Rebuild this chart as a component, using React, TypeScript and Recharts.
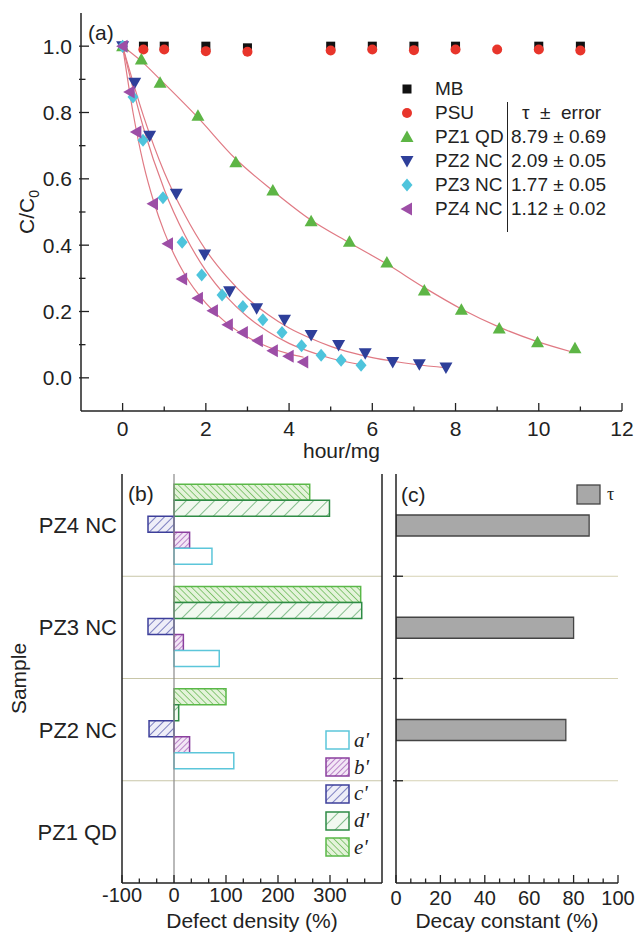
import React from 'react'
import { ScatterChart, Scatter, BarChart, Bar, XAxis, YAxis, ReferenceLine, Legend } from 'recharts'

const FONT = '"Liberation Sans", Arial, sans-serif'
const SERIF = '"Liberation Serif", "Times New Roman", serif'
const INK = '#222'
const frame = { stroke: INK, strokeWidth: 1.5 }

// ---------- (a) dye decay ----------
const mbHours = [0.5, 1, 2, 3, 5, 6, 7, 8, 10, 11]
const mbRatio = [1.0, 1.0, 1.0, 0.995, 1.0, 1.0, 1.0, 1.0, 1.0, 1.0]
const psuHours = [0.5, 1, 2, 3, 5, 6, 7, 8, 9, 10, 11]
const psuRatio = [0.99, 0.99, 0.985, 0.983, 0.987, 0.99, 0.988, 0.99, 0.99, 0.99, 0.987]
const pz1Hours = [0, 0.45, 0.9, 1.81, 2.72, 3.61, 4.53, 5.45, 6.35, 7.25, 8.14, 9.05, 9.97, 10.87]
const pz1Ratio = [1, 0.96, 0.89, 0.79, 0.65, 0.565, 0.472, 0.41, 0.348, 0.263, 0.205, 0.149, 0.107, 0.089]
const pz2Hours = [0, 0.29, 0.65, 1.29, 1.97, 2.57, 3.22, 3.89, 4.53, 5.19, 5.83, 6.49, 7.13, 7.77]
const pz2Ratio = [1, 0.89, 0.73, 0.555, 0.372, 0.261, 0.21, 0.175, 0.129, 0.099, 0.074, 0.048, 0.041, 0.031]
const pz3Hours = [0, 0.25, 0.49, 0.97, 1.43, 1.9, 2.39, 2.89, 3.37, 3.83, 4.3, 4.77, 5.25, 5.73]
const pz3Ratio = [1, 0.847, 0.716, 0.543, 0.409, 0.31, 0.25, 0.215, 0.175, 0.137, 0.097, 0.068, 0.053, 0.038]
const pz4Hours = [0, 0.17, 0.33, 0.73, 1.09, 1.43, 1.81, 2.17, 2.53, 2.89, 3.25, 3.61, 3.99, 4.34]
const pz4Ratio = [1, 0.862, 0.741, 0.525, 0.404, 0.298, 0.24, 0.202, 0.16, 0.137, 0.112, 0.082, 0.065, 0.048]

// fitted curves
const fit1Hours = [0, 0.45, 0.9, 1.8, 2.7, 3.6, 4.5, 5.45, 6.35, 7.25, 8.15, 9.05, 9.95, 10.8]
const fit1Ratio = [1, 0.955, 0.9, 0.786, 0.662, 0.565, 0.478, 0.407, 0.343, 0.272, 0.207, 0.153, 0.11, 0.078]
const fit2Hours = [0, 0.5, 1, 1.5, 2, 2.5, 3, 3.5, 4, 4.5, 5, 5.5, 6, 6.5, 7, 7.8]
const fit2Ratio = [1, 0.79, 0.62, 0.49, 0.385, 0.305, 0.24, 0.19, 0.15, 0.12, 0.095, 0.076, 0.061, 0.05, 0.041, 0.03]
const fit3Hours = [0, 0.5, 1, 1.5, 2, 2.5, 3, 3.5, 4, 4.5, 5, 5.75]
const fit3Ratio = [1, 0.754, 0.568, 0.429, 0.323, 0.244, 0.184, 0.139, 0.104, 0.079, 0.059, 0.039]
const fit4Hours = [0, 0.25, 0.5, 0.75, 1, 1.5, 2, 2.5, 3, 3.5, 4, 4.35]
const fit4Ratio = [1, 0.8, 0.645, 0.53, 0.44, 0.31, 0.225, 0.165, 0.123, 0.093, 0.072, 0.062]

const dyeNames = ['MB', 'PSU', 'PZ1 QD', 'PZ2 NC', 'PZ3 NC', 'PZ4 NC']
const dyeColors = ['#111111', '#e8352b', '#5db545', '#2e3f9a', '#4ec4dc', '#9d4ea6']
const dyeMarkers = ['square', 'circle', 'up', 'down', 'diamond', 'left']
const tauHeader = 'τ  ±  error'
const tauText = ['', '', '8.79 ± 0.69', '2.09 ± 0.05', '1.77 ± 0.05', '1.12 ± 0.02']

const hoursTicks = [0, 1, 2, 3, 4, 5, 6, 7, 8, 9, 10, 11, 12]
const hoursMajor = [0, 2, 4, 6, 8, 10, 12]
const ratioTicks = [0, 0.1, 0.2, 0.3, 0.4, 0.5, 0.6, 0.7, 0.8, 0.9, 1.0]
const ratioMajor = [0, 0.2, 0.4, 0.6, 0.8, 1.0]

// ---------- (b) defect density, (c) decay constant ----------
const samples = ['PZ4 NC', 'PZ3 NC', 'PZ2 NC', 'PZ1 QD']
const defectA = [73, 87, 115, null]
const defectB = [30, 18, 30, null]
const defectC = [-50, -50, -48, null]
const defectD = [299, 361, 9, null]
const defectE = [261, 359, 100, null]
const decayTau = [87, 80, 76.5, null]

const defectTicks = [-100, -66.7, -33.3, 0, 33.3, 66.7, 100, 133.3, 166.7, 200, 233.3, 266.7, 300, 333.3, 366.7]
const defectMajor = [-100, 0, 100, 200, 300]
const decayTicks = [0, 6.67, 13.33, 20, 26.67, 33.33, 40, 46.67, 53.33, 60, 66.67, 73.33, 80, 86.67, 93.33, 100]
const decayMajor = [0, 20, 40, 60, 80, 100]

const defectKeys = ['a', 'b', 'c', 'd', 'e']
const defectLabels = ["a'", "b'", "c'", "d'", "e'"]
const defectFill: Record<string, string> = {
  a: '#ffffff', b: 'url(#hatchB)', c: 'url(#hatchC)', d: 'url(#hatchD)', e: 'url(#hatchE)',
}
const defectStroke: Record<string, string> = {
  a: '#5cc6da', b: '#8a3f9e', c: '#3d3f9a', d: '#2e8b45', e: '#5ab848',
}

const pts = (xs: number[], ys: number[]) => xs.map((x, i) => ({ x, y: ys[i] }))
const dyeData = [pts(mbHours, mbRatio), pts(psuHours, psuRatio), pts(pz1Hours, pz1Ratio),
  pts(pz2Hours, pz2Ratio), pts(pz3Hours, pz3Ratio), pts(pz4Hours, pz4Ratio)]
const fitData = [pts(fit1Hours, fit1Ratio), pts(fit2Hours, fit2Ratio), pts(fit3Hours, fit3Ratio), pts(fit4Hours, fit4Ratio)]

const defectRows = samples.map((sample, i) => ({
  sample, a: defectA[i], b: defectB[i], c: defectC[i], d: defectD[i], e: defectE[i],
}))
const decayRows = samples.map((sample, i) => ({ sample, tau: decayTau[i] }))

function markerShape(kind: string, cx: number, cy: number, color: string) {
  switch (kind) {
    case 'square':
      return <rect x={cx - 4.5} y={cy - 4.5} width={9} height={9} fill={color} />
    case 'circle':
      return <circle cx={cx} cy={cy} r={5} fill={color} />
    case 'up':
      return <polygon points={`${cx},${cy - 6.5} ${cx + 6.5},${cy + 5} ${cx - 6.5},${cy + 5}`} fill={color} />
    case 'down':
      return <polygon points={`${cx},${cy + 6.5} ${cx + 6.5},${cy - 5} ${cx - 6.5},${cy - 5}`} fill={color} />
    case 'diamond':
      return <polygon points={`${cx},${cy - 6.5} ${cx + 5.5},${cy} ${cx},${cy + 6.5} ${cx - 5.5},${cy}`} fill={color} />
    default:
      return <polygon points={`${cx - 6.5},${cy} ${cx + 5},${cy - 6.5} ${cx + 5},${cy + 6.5}`} fill={color} />
  }
}

// inward tick marks, labels only on majors
function axisTick(side: string, majors: number[] | null, fmt?: (v: number) => string, gap = 14, size = 21) {
  return (props: any) => {
    const { x, y, payload } = props
    const v = payload?.value
    const major = !majors || majors.some((m) => Math.abs(m - v) < 1e-6)
    const len = major ? 8 : 4.5
    let l = [x, y, x, y - len]
    if (side === 'top') l = [x, y, x, y + len]
    if (side === 'left') l = [x - 2, y, x + len, y]
    if (side === 'right') l = [x, y, x - len, y]
    const label = fmt && major ? fmt(v) : null
    return (
      <g>
        <line x1={l[0]} y1={l[1]} x2={l[2]} y2={l[3]} stroke={INK} strokeWidth={1.3} />
        {label !== null && side === 'bottom' && (
          <text x={x} y={y + gap} dy="0.36em" textAnchor="middle" fontSize={size} fontFamily={FONT} fill={INK}>{label}</text>
        )}
        {label !== null && side === 'left' && (
          <text x={x - gap} y={y} dy="0.36em" textAnchor="end" fontSize={size} fontFamily={FONT} fill={INK}>{label}</text>
        )}
      </g>
    )
  }
}

// category axes: tick on the lower edge of each band (between samples)
function edgeTick(side: 'left' | 'right') {
  return (props: any) => {
    const { x, y, payload, index } = props
    const off = payload?.offset ?? 0
    if (!off || index >= samples.length - 1) return <g />
    const yy = y + off
    return side === 'left'
      ? <line x1={x - 3} y1={yy} x2={x + 7} y2={yy} stroke={INK} strokeWidth={1.3} />
      : <line x1={x} y1={yy} x2={x - 7} y2={yy} stroke={INK} strokeWidth={1.3} />
  }
}

const sampleTick = (props: any) => (
  <text x={props.x - 5} y={props.y} dy="0.36em" textAnchor="end" fontSize={22} fontFamily={FONT} fill={INK}>
    {props.payload.value}
  </text>
)

const xTitle = (text: string, dx: number, dy: number, size = 21) => ({
  content: (p: any) => {
    const vb = p.viewBox
    return (
      <text x={vb.x + vb.width / 2 + dx} y={vb.y + dy} dy="0.36em" textAnchor="middle" fontSize={size} fontFamily={FONT} fill={INK}>
        {text}
      </text>
    )
  },
})

const yTitle = (body: React.ReactNode, dx: number) => ({
  content: (p: any) => {
    const vb = p.viewBox
    const x = vb.x + dx
    const y = vb.y + vb.height / 2
    return (
      <text transform={`rotate(-90 ${x} ${y})`} x={x} y={y} dy="0.36em" textAnchor="middle" fontSize={21} fontFamily={FONT} fill={INK}>
        {body}
      </text>
    )
  },
})

function DyeLegend(props: any) {
  const entries = [...(props.payload ?? [])]
    .filter((e: any) => dyeNames.includes(e.value))
    .sort((p: any, q: any) => dyeNames.indexOf(p.value) - dyeNames.indexOf(q.value))
  return (
    <div style={{ position: 'relative', fontFamily: FONT, fontSize: 19, color: INK, width: 236 }}>
      {entries.map((e: any) => {
        const k = dyeNames.indexOf(e.value)
        return (
          <div key={e.value} style={{ position: 'relative', height: 24 }}>
            <svg width={18} height={24} style={{ position: 'absolute', left: 0, top: 0 }}>
              {markerShape(dyeMarkers[k], 9, 12, dyeColors[k])}
            </svg>
            <span style={{ position: 'absolute', left: 37, top: 0, lineHeight: '24px', whiteSpace: 'nowrap' }}>{e.value}</span>
            {k === 1 && (
              <span style={{ position: 'absolute', left: 124, top: 0, lineHeight: '24px', whiteSpace: 'pre' }}>{tauHeader}</span>
            )}
            {tauText[k] && (
              <span style={{ position: 'absolute', left: 113, top: 0, lineHeight: '24px', whiteSpace: 'nowrap' }}>{tauText[k]}</span>
            )}
          </div>
        )
      })}
      <div style={{ position: 'absolute', left: 109, top: 25, width: 1.3, height: 130, background: INK }} />
    </div>
  )
}

function DefectLegend(props: any) {
  const entries = [...(props.payload ?? [])]
    .filter((e: any) => defectLabels.includes(e.value))
    .sort((p: any, q: any) => defectLabels.indexOf(p.value) - defectLabels.indexOf(q.value))
  return (
    <div>
      {entries.map((e: any) => {
        const key = defectKeys[defectLabels.indexOf(e.value)]
        return (
          <div key={e.value} style={{ display: 'flex', alignItems: 'center', height: 26.75 }}>
            <svg width={25} height={20}>
              <rect x={1} y={1} width={23} height={18} fill={defectFill[key]} stroke={defectStroke[key]} strokeWidth={1.5} />
            </svg>
            <span style={{ fontFamily: SERIF, fontStyle: 'italic', fontSize: 21, color: INK, marginLeft: 4 }}>{e.value}</span>
          </div>
        )
      })}
    </div>
  )
}

function DecayLegend() {
  return (
    <div style={{ display: 'flex', alignItems: 'center' }}>
      <svg width={25} height={21}>
        <rect x={1} y={1} width={23} height={19} fill="#a8a8a8" stroke="#444" strokeWidth={1.3} />
      </svg>
      <span style={{ fontFamily: SERIF, fontSize: 18, color: INK, marginLeft: 6 }}>τ</span>
    </div>
  )
}

const panelTag = (text: string, left: number, top: number) => (
  <div style={{ position: 'absolute', left, top, fontSize: 21, lineHeight: '21px', fontFamily: FONT, color: INK }}>{text}</div>
)

export default function App() {
  return (
    <div style={{ position: 'absolute', left: 0, top: 0, width: 638, height: 938, background: '#fff', fontFamily: FONT }}>
      <div style={{ position: 'absolute', left: 0, top: 0 }}>
        <ScatterChart width={638} height={470} margin={{ top: 13, right: 16, bottom: 0, left: 0 }}>
          <XAxis type="number" dataKey="x" domain={[-1, 12]} allowDataOverflow ticks={hoursTicks} interval={0}
            tickSize={0} tickMargin={0} tickLine={false} axisLine={frame} height={59}
            tick={axisTick('bottom', hoursMajor, (v) => String(v), 17)} label={xTitle('hour/mg', -10, 39)} />
          <XAxis xAxisId="top" orientation="top" type="number" domain={[-1, 12]} allowDataOverflow ticks={hoursTicks}
            interval={0} tickSize={0} tickMargin={0} tickLine={false} axisLine={frame} height={0} tick={axisTick('top', hoursMajor)} />
          <YAxis type="number" dataKey="y" domain={[-0.1, 1.1]} allowDataOverflow ticks={ratioTicks} interval={0}
            tickSize={0} tickMargin={0} tickLine={false} axisLine={frame} width={81}
            tick={axisTick('left', ratioMajor, (v) => v.toFixed(1), 9)}
            label={yTitle(<>C/C<tspan dy="5" fontSize={14}>0</tspan></>, 26)} />
          <YAxis yAxisId="right" orientation="right" type="number" domain={[-0.1, 1.1]} allowDataOverflow ticks={ratioTicks}
            interval={0} tickSize={0} tickMargin={0} tickLine={false} axisLine={frame} width={0} tick={axisTick('right', ratioMajor)} />
          {fitData.map((d, i) => (
            <Scatter key={'fit' + i} name={'fit' + i} data={d} legendType="none" line={{ stroke: '#e07a84', strokeWidth: 1.2 }}
              lineJointType="monotoneX" shape={() => <g />} isAnimationActive={false} />
          ))}
          {dyeData.map((d, i) => (
            <Scatter key={dyeNames[i]} name={dyeNames[i]} data={d} fill={dyeColors[i]}
              shape={(p: any) => markerShape(dyeMarkers[i], p.cx, p.cy, dyeColors[i])} isAnimationActive={false} />
          ))}
          <Legend layout="vertical" align="center" verticalAlign="middle" content={DyeLegend}
            wrapperStyle={{ left: 398, top: 77, width: 236 }} />
        </ScatterChart>
      </div>

      <div style={{ position: 'absolute', left: 0, top: 460 }}>
        <BarChart layout="vertical" width={392} height={478} data={defectRows}
          margin={{ top: 14, right: 10, bottom: 0, left: 0 }} barCategoryGap="10%" barGap={0}>
          <defs>
            <pattern id="hatchE" patternUnits="userSpaceOnUse" width={4.5} height={4.5} patternTransform="rotate(-45)">
              <rect width={4.5} height={4.5} fill="#e4f3da" />
              <line x1={0} y1={0} x2={0} y2={4.5} stroke="#62b64e" strokeWidth={1.4} />
            </pattern>
            <pattern id="hatchD" patternUnits="userSpaceOnUse" width={10} height={10} patternTransform="rotate(45)">
              <rect width={10} height={10} fill="#f2f9f0" />
              <line x1={0} y1={0} x2={0} y2={10} stroke="#4a9e58" strokeWidth={1.3} />
            </pattern>
            <pattern id="hatchC" patternUnits="userSpaceOnUse" width={6} height={6} patternTransform="rotate(45)">
              <rect width={6} height={6} fill="#eeeef8" />
              <line x1={0} y1={0} x2={0} y2={6} stroke="#4b4fa8" strokeWidth={1.4} />
            </pattern>
            <pattern id="hatchB" patternUnits="userSpaceOnUse" width={4} height={4} patternTransform="rotate(45)">
              <rect width={4} height={4} fill="#f3e6f6" />
              <line x1={0} y1={0} x2={0} y2={4} stroke="#9b4fb0" strokeWidth={1.3} />
            </pattern>
          </defs>
          <XAxis type="number" domain={[-100, 400]} allowDataOverflow ticks={defectTicks} interval={0}
            tickSize={0} tickMargin={0} tickLine={false} axisLine={frame} height={55}
            tick={axisTick('bottom', defectMajor, (v) => String(v), 12, 20)} label={xTitle('Defect density (%)', 0, 37)} />
          <XAxis xAxisId="top" orientation="top" type="number" domain={[-100, 400]} allowDataOverflow ticks={defectTicks}
            interval={0} tickSize={0} tickMargin={0} tickLine={false} axisLine={frame} height={0} tick={axisTick('top', defectMajor)} />
          <YAxis type="category" dataKey="sample" width={122} interval={0} tickSize={0} tickMargin={0} tickLine={false}
            axisLine={frame} tick={sampleTick} label={yTitle('Sample', 18)} />
          <YAxis yAxisId="side" orientation="right" type="category" dataKey="sample" interval={0} tickSize={0} tickMargin={0}
            tickLine={false} axisLine={frame} width={0} tick={edgeTick('right')} />
          {samples.slice(0, samples.length - 1).map((s) => (
            <ReferenceLine key={s} y={s} position="end" stroke="#c8c6a8" strokeWidth={1} />
          ))}
          <ReferenceLine x={0} stroke="#8a8a8a" strokeWidth={1.2} />
          <ReferenceLine x={400} stroke={INK} strokeWidth={1.5} />
          {['e', 'd', 'c', 'b', 'a'].map((k) => (
            <Bar key={k} dataKey={k} name={defectLabels[defectKeys.indexOf(k)]} fill={defectFill[k]}
              stroke={defectStroke[k]} strokeWidth={1.5} isAnimationActive={false} />
          ))}
          <Legend layout="vertical" align="center" verticalAlign="middle" content={DefectLegend}
            wrapperStyle={{ left: 325, top: 267, width: 60 }} />
        </BarChart>
      </div>

      <div style={{ position: 'absolute', left: 386, top: 460 }}>
        <BarChart layout="vertical" width={252} height={478} data={decayRows}
          margin={{ top: 14, right: 20, bottom: 0, left: 0 }}>
          <XAxis type="number" domain={[0, 100]} allowDataOverflow ticks={decayTicks} interval={0}
            tickSize={0} tickMargin={0} tickLine={false} axisLine={frame} height={55}
            tick={axisTick('bottom', decayMajor, (v) => String(v), 15, 20)} label={xTitle('Decay constant (%)', 0, 37)} />
          <XAxis xAxisId="top" orientation="top" type="number" domain={[0, 100]} allowDataOverflow ticks={decayTicks}
            interval={0} tickSize={0} tickMargin={0} tickLine={false} axisLine={frame} height={0} tick={axisTick('top', decayMajor)} />
          <YAxis yAxisId="edge" orientation="left" type="category" dataKey="sample" interval={0} tickSize={0} tickMargin={0}
            tickLine={false} axisLine={frame} width={10} tick={edgeTick('left')} />
          <YAxis yAxisId="cat" orientation="right" type="category" dataKey="sample" interval={0} tickSize={0} tickMargin={0}
            tickLine={false} axisLine={frame} width={0} tick={axisTick('right', null)} />
          {samples.slice(0, samples.length - 1).map((s) => (
            <ReferenceLine key={s} yAxisId="cat" y={s} position="end" stroke="#d6d2b4" strokeWidth={1} />
          ))}
          <Bar yAxisId="cat" dataKey="tau" name="τ" fill="#a8a8a8" stroke="#444" strokeWidth={1.3} barSize={21}
            isAnimationActive={false} />
          <Legend layout="vertical" align="center" verticalAlign="middle" content={DecayLegend}
            wrapperStyle={{ left: 190, top: 24, width: 50 }} />
        </BarChart>
      </div>

      {panelTag('(a)', 88, 22)}
      {panelTag('(b)', 128, 483)}
      {panelTag('(c)', 401, 484)}
    </div>
  )
}
